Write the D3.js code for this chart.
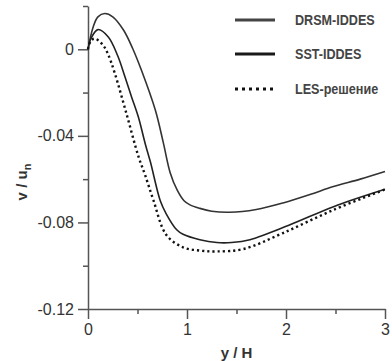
<!DOCTYPE html>
<html>
<head>
<script src="https://d3js.org/d3.v7.min.js"></script>
<style>
  body { margin: 0; background: white; }
  .axis path, .axis line { stroke: #555; stroke-width: 1.5; }
  .axis text { font-family: "Liberation Sans", Arial, sans-serif; font-size: 16px; fill: #333; }
</style>
</head>
<body>
<div id="chart"></div>
<script>
// x positions (y/H) and values (v/u_n)
var drsmX = [0, 0.05, 0.1, 0.17, 0.25, 0.36, 0.45, 0.54, 0.68, 0.76, 0.83, 0.9, 0.97, 1.03, 1.13, 1.25, 1.43, 1.7, 1.97, 2.25, 2.47, 2.75, 3.0];
var drsmV = [0, 0.010, 0.015, 0.0165, 0.015, 0.0088, 0.0005, -0.0097, -0.0281, -0.043, -0.057, -0.065, -0.070, -0.0719, -0.0735, -0.0748, -0.0753, -0.0740, -0.0710, -0.0670, -0.0635, -0.0600, -0.0565];

var sstX = [0, 0.03, 0.1, 0.205, 0.3, 0.374, 0.44, 0.508, 0.58, 0.63, 0.73, 0.79, 0.896, 0.96, 1.13, 1.30, 1.45, 1.636, 2.04, 2.48, 3.0];
var sstV = [0, 0.005, 0.0091, 0.0057, -0.003, -0.0128, -0.022, -0.0312, -0.044, -0.052, -0.070, -0.076, -0.0834, -0.0855, -0.088, -0.0893, -0.0893, -0.088, -0.0811, -0.0727, -0.0647];

var lesX = [0, 0.03, 0.07, 0.15, 0.2, 0.27, 0.39, 0.51, 0.576, 0.66, 0.79, 0.96, 1.13, 1.30, 1.57, 1.97, 2.48, 3.0];
var lesV = [0, 0.004, 0.0049, 0.002, -0.002, -0.011, -0.030, -0.0496, -0.058, -0.0696, -0.0857, -0.0915, -0.093, -0.0934, -0.0923, -0.0849, -0.0742, -0.0648];

var xMajor = [0, 1, 2, 3];
var xMinor = [0.5, 1.5, 2.5];
var yMajor = [0, -0.04, -0.08, -0.12];
var yMajorLabels = ["0", "-0.04", "-0.08", "-0.12"];
var yMinor = [0.02, -0.02, -0.06, -0.10];

var legendNames = ["DRSM-IDDES", "SST-IDDES", "LES-решение"];

var margin = {top: 6, right: 7, bottom: 52, left: 88},
    width = 392 - margin.left - margin.right,
    height = 361 - margin.top - margin.bottom;

var svg = d3.select("#chart")
  .append("svg")
    .attr("width", 392)
    .attr("height", 361)
    .style("display", "block")
  .append("g")
    .attr("transform", "translate(" + margin.left + "," + margin.top + ")");

var x = d3.scaleLinear().domain([0, 3]).range([0, width]);
var y = d3.scaleLinear().domain([-0.12, 0.02]).range([height, 0]);

// minor ticks first
svg.append("g")
    .attr("class", "axis")
    .call(d3.axisLeft(y).tickValues(yMinor).tickSize(5).tickFormat(""))
    .call(function(g) { g.select(".domain").remove(); });
svg.append("g")
    .attr("class", "axis")
    .attr("transform", "translate(0," + height + ")")
    .call(d3.axisBottom(x).tickValues(xMinor).tickSize(5).tickFormat(""))
    .call(function(g) { g.select(".domain").remove(); });

// major ticks with labels
svg.append("g")
    .attr("class", "axis")
    .call(d3.axisLeft(y).tickValues(yMajor).tickSize(10).tickSizeOuter(0).tickPadding(4)
      .tickFormat(function(d, i) { return yMajorLabels[i]; }));
svg.append("g")
    .attr("class", "axis")
    .attr("transform", "translate(0," + height + ")")
    .call(d3.axisBottom(x).tickValues(xMajor).tickSize(10).tickSizeOuter(0).tickPadding(5)
      .tickFormat(d3.format("d")));

// axis titles
svg.append("text")
    .attr("x", width / 2)
    .attr("y", height + 49)
    .attr("text-anchor", "middle")
    .style("font-family", "Liberation Sans, Arial, sans-serif")
    .style("font-size", "15px")
    .style("font-weight", "bold")
    .style("fill", "#333")
    .text("y / H");

var yt = svg.append("text")
    .attr("transform", "translate(" + (-61) + "," + 176 + ") rotate(-90)")
    .attr("text-anchor", "middle")
    .style("font-family", "Liberation Sans, Arial, sans-serif")
    .style("font-size", "15px")
    .style("font-weight", "bold")
    .style("fill", "#333");
yt.append("tspan").text("v / u");
yt.append("tspan").attr("dy", 4).style("font-size", "11px").text("n");

// curves
var line = d3.line()
    .x(function(d) { return x(d[0]); })
    .y(function(d) { return y(d[1]); })
    .curve(d3.curveCatmullRom.alpha(0.5));

svg.append("path")
    .datum(d3.zip(drsmX, drsmV))
    .attr("d", line)
    .attr("fill", "none")
    .attr("stroke", "#333")
    .attr("stroke-width", 1.6);

svg.append("path")
    .datum(d3.zip(sstX, sstV))
    .attr("d", line)
    .attr("fill", "none")
    .attr("stroke", "#222")
    .attr("stroke-width", 1.6);

svg.append("path")
    .datum(d3.zip(lesX, lesV))
    .attr("d", line)
    .attr("fill", "none")
    .attr("stroke", "#111")
    .attr("stroke-width", 2.4)
    .attr("stroke-dasharray", "2.2,3");

// legend
var legendY = [20, 54, 89];
var legendStroke = ["#444", "#1a1a1a", "#111"];
var legendDash = [null, null, "3,4"];
var legendW = [3, 3.2, 3];

var leg = svg.append("g").attr("transform", "translate(" + (235 - margin.left) + ",0)");
legendNames.forEach(function(name, i) {
  leg.append("line")
      .attr("x1", 0).attr("x2", 40)
      .attr("y1", legendY[i] - margin.top).attr("y2", legendY[i] - margin.top)
      .attr("stroke", legendStroke[i])
      .attr("stroke-width", legendW[i])
      .attr("stroke-dasharray", legendDash[i]);
  leg.append("text")
      .attr("transform", "translate(60," + (legendY[i] - margin.top) + ") scale(0.9,1)")
      .attr("dy", "0.35em")
      .style("font-family", "Liberation Sans Narrow, Arial Narrow, Arial, sans-serif")
      .style("font-size", "14px")
      .style("font-weight", "bold")
      .style("fill", "#444")
      .text(name);
});
</script>
</body>
</html>
